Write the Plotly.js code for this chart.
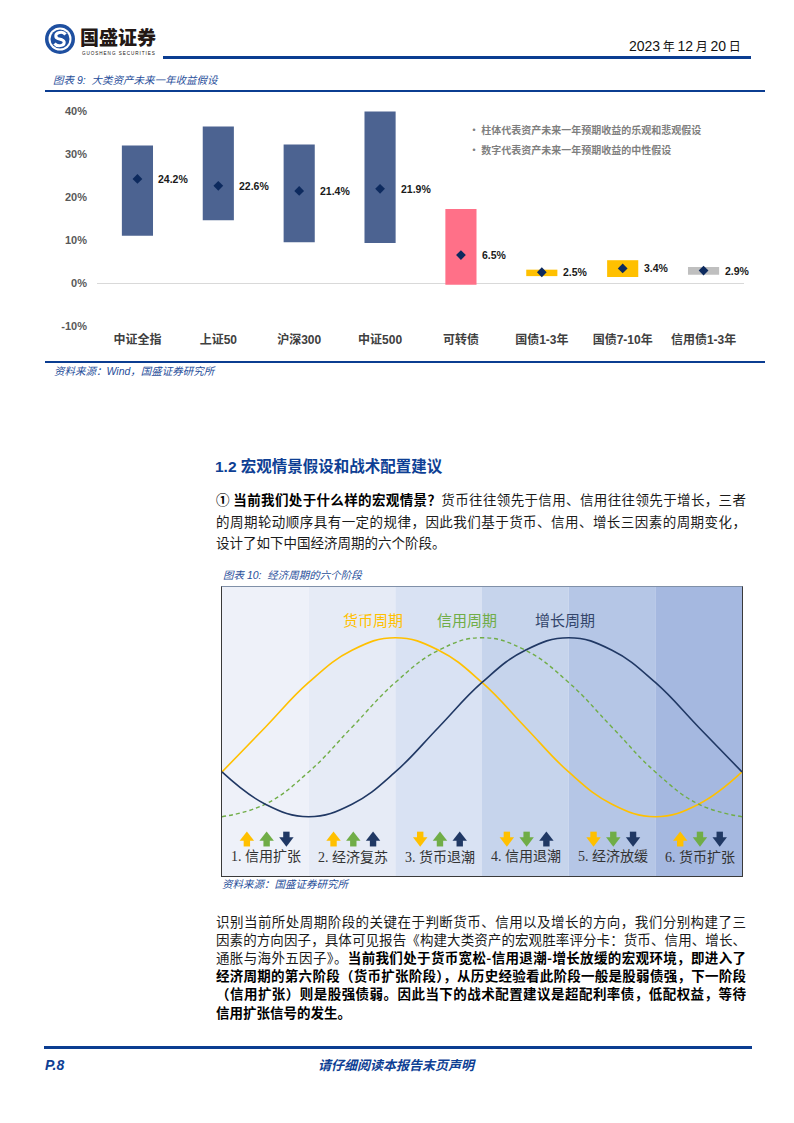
<!DOCTYPE html>
<html><head><meta charset="utf-8">
<script src="https://cdn.plot.ly/plotly-3.0.1.min.js"></script>
<style>
body{margin:0;background:#fff;}
#page{position:relative;width:794px;height:1123px;overflow:hidden;background:#fff;font-family:"Liberation Sans","Noto Sans CJK SC",sans-serif;}
.abs{position:absolute;white-space:nowrap;}
.cap{font-style:italic;color:#1F4E9A;font-size:10.5px;line-height:14px;font-family:"Liberation Sans","Noto Sans CJK SC",sans-serif;}
.hline{position:absolute;background:#0B3D91;}
.para{position:absolute;left:216px;width:530px;font-family:"Noto Sans CJK SC",sans-serif;font-size:13.5px;color:#1a1a1a;}
.ln{position:absolute;left:0;width:530px;height:18px;line-height:18px;text-align:justify;text-align-last:justify;white-space:nowrap;}
.ln.last{text-align:left;text-align-last:left;}
.b{font-weight:bold;color:#000;}
.leg{position:absolute;white-space:nowrap;font-family:"Noto Sans CJK SC",sans-serif;font-weight:bold;color:#7F7F7F;font-size:10px;line-height:14px;}
</style>
</head><body>
<div id="page">
  <!-- header logo -->
  <svg class="abs" style="left:44px;top:23px" width="32" height="32" viewBox="0 0 32 32">
    <circle cx="16" cy="16" r="15" fill="#1E4FA0"/>
    <circle cx="16" cy="16" r="11.5" fill="#fff"/>
    <circle cx="16" cy="16" r="9.5" fill="#1E4FA0"/>
    <path d="M21.5,11.5 C20,9.5 17,9 14.5,9.8 C11,11 11,14.5 14,15.6 L18,16.8 C21,17.8 21,21.5 17.5,22.4 C15,23 12,22.5 10.5,20.5" fill="none" stroke="#fff" stroke-width="3"/>
  </svg>
  <div class="abs" style="left:80px;top:26px;font-family:'Noto Sans CJK SC',sans-serif;font-weight:900;font-size:19px;line-height:21px;color:#231815;">国盛证券</div>
  <div class="abs" style="left:82px;top:51.3px;font-family:'Liberation Sans',sans-serif;font-size:4.6px;line-height:5px;letter-spacing:0.95px;color:#231815;">GUOSHENG SECURITIES</div>
  <div class="abs" style="left:629px;top:37px;font-size:14px;line-height:17px;color:#111;"><span>2023</span><span style="font-family:'Noto Sans CJK SC';font-size:12px"> 年 </span><span>12</span><span style="font-family:'Noto Sans CJK SC';font-size:12px"> 月 </span><span>20</span><span style="font-family:'Noto Sans CJK SC';font-size:12px"> 日</span></div>
  <div class="hline" style="left:163px;top:56px;width:588px;height:2.5px;"></div>

  <!-- chart 9 caption -->
  <div class="abs cap" style="left:53px;top:73px;">图表 9:&nbsp; 大类资产未来一年收益假设</div>
  <div class="hline" style="left:45px;top:90px;width:720px;height:2px;"></div>
  <div id="chart9" class="abs" style="left:40px;top:100px;width:720px;height:262px;"></div>
  <div class="leg" style="left:469px;top:123px;">· 柱体代表资产未来一年预期收益的乐观和悲观假设</div>
  <div class="leg" style="left:469px;top:143px;">· 数字代表资产未来一年预期收益的中性假设</div>
  <div class="hline" style="left:45px;top:361px;width:720px;height:2px;"></div>
  <div class="abs cap" style="left:54px;top:364px;">资料来源：Wind，国盛证券研究所</div>

  <!-- section heading -->
  <div class="abs" style="left:215px;top:457px;font-family:'Liberation Sans','Noto Sans CJK SC',sans-serif;font-weight:bold;font-size:15.5px;line-height:20px;color:#0E3F94;">1.2 宏观情景假设和战术配置建议</div>

  <div class="para" style="top:0;">
    <div class="ln" style="top:490px;"><span class="b">① 当前我们处于什么样的宏观情景？</span>货币往往领先于信用、信用往往领先于增长，三者</div>
    <div class="ln" style="top:511.5px;">的周期轮动顺序具有一定的规律，因此我们基于货币、信用、增长三因素的周期变化，</div>
    <div class="ln last" style="top:533px;">设计了如下中国经济周期的六个阶段。</div>
  </div>

  <!-- chart 10 -->
  <div class="abs cap" style="left:223px;top:568px;">图表 10:&nbsp; 经济周期的六个阶段</div>
  <div class="abs" style="left:220.5px;top:585.5px;width:520px;height:289px;border:1.5px solid #3a3a3a;border-top-color:#8090A8;">
    <div id="chart10" style="width:520px;height:289px;"></div>
  </div>
  <div class="abs cap" style="left:222px;top:877px;">资料来源：国盛证券研究所</div>

  <div class="para" style="top:0;">
    <div class="ln" style="top:911.5px;">识别当前所处周期阶段的关键在于判断货币、信用以及增长的方向，我们分别构建了三</div>
    <div class="ln" style="top:929.7px;">因素的方向因子，具体可见报告《构建大类资产的宏观胜率评分卡：货币、信用、增长、</div>
    <div class="ln" style="top:947.9px;">通胀与海外五因子》。<span class="b">当前我们处于货币宽松-信用退潮-增长放缓的宏观环境，即进入了</span></div>
    <div class="ln b" style="top:966.1px;">经济周期的第六阶段（货币扩张阶段），从历史经验看此阶段一般是股弱债强，下一阶段</div>
    <div class="ln b" style="top:984.3px;">（信用扩张）则是股强债弱。因此当下的战术配置建议是超配利率债，低配权益，等待</div>
    <div class="ln last b" style="top:1002.5px;">信用扩张信号的发生。</div>
  </div>

  <!-- footer -->
  <div class="hline" style="left:44px;top:1046px;width:708px;height:2.5px;"></div>
  <div class="abs" style="left:45px;top:1057px;font-weight:bold;font-style:italic;font-size:14px;line-height:16px;color:#0E3F94;">P.8</div>
  <div class="abs" style="left:318px;top:1057px;font-family:'Noto Sans CJK SC',sans-serif;font-weight:bold;font-style:italic;font-size:13px;line-height:16px;color:#0E3F94;">请仔细阅读本报告末页声明</div>
</div>

<script>
// ---------- Chart 9 data ----------
const assets = ['中证全指','上证50','沪深300','中证500','可转债','国债1-3年','国债7-10年','信用债1-3年'];
const pessimistic = [11.0, 14.6, 9.5, 9.3, -0.4, 1.6, 1.4, 1.9];
const optimistic  = [32.0, 36.4, 32.2, 39.9, 17.2, 3.1, 5.3, 3.7];
const neutral     = [24.2, 22.6, 21.4, 21.9, 6.5, 2.5, 3.4, 2.9];
const assetColors = ['#4C6391','#4C6391','#4C6391','#4C6391','#FF7088','#FFC000','#FFC000','#BFBFBF'];
const yTickVals   = [-10, 0, 10, 20, 30, 40];
const yTickLabels = ['-10%','0%','10%','20%','30%','40%'];

// ---------- Chart 10 data ----------
const stageNames = ['1. 信用扩张','2. 经济复苏','3. 货币退潮','4. 信用退潮','5. 经济放缓','6. 货币扩张'];
const phase       = [0,0.5,1,1.5,2,2.5,3,3.5,4,4.5,5,5.5,6];
const moneyCycle  = [25,50,75,93,100,93,75,50,25,7,0,7,25];
const creditCycle = [0,7,25,50,75,93,100,93,75,50,25,7,0];
const growthCycle = [25,7,0,7,25,50,75,93,100,93,75,50,25];
const cycleNames  = ['货币周期','信用周期','增长周期'];
// direction of money, credit, growth in each stage (1 up, -1 down)
const directions  = [[1,1,-1],[1,1,1],[-1,1,1],[-1,-1,1],[-1,-1,-1],[1,-1,-1]];

const cycleColors = ['#FFC000','#70AD47','#203864'];
const bandColors  = ['#EEF1F9','#E6EBF6','#D9E2F3','#C6D4EC','#B5C6E6','#A5B8E0'];

// ---------- Chart 9 ----------
(function(){
  const bars = {
    type:'bar', x:assets, y:optimistic.map((v,i)=>v-pessimistic[i]), base:pessimistic,
    width:0.385, marker:{color:assetColors, line:{width:0}}, hoverinfo:'skip'
  };
  const pts = {
    type:'scatter', mode:'markers', x:assets, y:neutral,
    marker:{symbol:'diamond', size:7.5, color:'#0D2A5E', line:{width:0}}, hoverinfo:'skip'
  };
  const ann = neutral.map((v,i)=>({
    x:assets[i], y:v, xref:'x', yref:'y', text:'<b>'+v.toFixed(1)+'%</b>', showarrow:false,
    xanchor:'left', yanchor:'middle', xshift:19,
    font:{family:'Liberation Sans, Arial, sans-serif', size:10.5, color:'#1a1a1a'}
  }));
  const layout = {
    width:720, height:262, margin:{l:56.5, r:15.5, t:11, b:36.3},
    paper_bgcolor:'rgba(0,0,0,0)', plot_bgcolor:'rgba(0,0,0,0)', showlegend:false,
    xaxis:{type:'category', range:[-0.5,7.5], showgrid:false, zeroline:false, showline:false, ticks:'',
      tickfont:{family:'Liberation Sans, Noto Sans CJK SC, sans-serif', size:12, color:'#404040', weight:'bold'},
      ticklabelstandoff:5},
    yaxis:{range:[-10,40], tickvals:yTickVals, ticktext:yTickLabels, showgrid:false,
      zeroline:true, zerolinecolor:'#D9D9D9', zerolinewidth:1, showline:false, ticks:'',
      tickfont:{family:'Liberation Sans, Arial, sans-serif', size:11, color:'#595959', weight:'bold'},
      ticklabelstandoff:9},
    annotations:ann
  };
  Plotly.newPlot('chart9',[bars,pts],layout,{staticPlot:true, displayModeBar:false});
})();

// ---------- Chart 10 ----------
(function(){
  const H = 289, W = 520;
  const yr = [-33.13, 128.32];
  const ppu = H/(yr[1]-yr[0]);
  const arrowLevel = -12.5, labelLevel = -22.5, titleLevel = 110.4;

  const curves = [
    {type:'scatter', mode:'lines', x:phase, y:moneyCycle, line:{color:cycleColors[0], width:1.6, shape:'spline', smoothing:1.2}, hoverinfo:'skip'},
    {type:'scatter', mode:'lines', x:phase, y:creditCycle, line:{color:cycleColors[1], width:1.4, dash:'4px,3px', shape:'spline', smoothing:1.2}, hoverinfo:'skip'},
    {type:'scatter', mode:'lines', x:phase, y:growthCycle, line:{color:cycleColors[2], width:1.6, shape:'spline', smoothing:1.2}, hoverinfo:'skip'}
  ];

  // arrows: triangle head + square shaft
  const traces = [];
  for (let k=0;k<3;k++){
    const hx=[], hy=[], hs=[], sx=[], sy=[];
    directions.forEach((d,i)=>{
      const x = i + 0.515 + (k-1)*0.228;
      const up = d[k] > 0;
      hx.push(x); hy.push(arrowLevel + (up ? 1.4 : -1.4)/ppu); hs.push(up?'triangle-up':'triangle-down');
      sx.push(x); sy.push(arrowLevel + (up ? -4.2 : 4.2)/ppu);
    });
    traces.push({type:'scatter', mode:'markers', x:sx, y:sy, marker:{symbol:'square', size:6.4, color:cycleColors[k], line:{width:0}}, hoverinfo:'skip'});
    traces.push({type:'scatter', mode:'markers', x:hx, y:hy, marker:{symbol:hs, size:12.5, color:cycleColors[k], line:{width:0}}, hoverinfo:'skip'});
  }

  const shapes = bandColors.map((c,i)=>({type:'rect', xref:'x', yref:'paper', x0:i, x1:i+1, y0:0, y1:1, fillcolor:c, line:{width:0}, layer:'below'}));

  const titleX = [1.74, 2.83, 3.96];
  const annotations = cycleNames.map((n,k)=>({x:titleX[k], y:titleLevel, text:n, showarrow:false,
    font:{family:'Noto Sans CJK SC, sans-serif', size:15, color: k===2 ? '#33456B' : cycleColors[k]}}));
  stageNames.forEach((n,i)=>annotations.push({x:i+0.51, y:labelLevel, text:n, showarrow:false,
    font:{family:'Liberation Serif, Noto Sans CJK SC, serif', size:14, color:'#333333'}}));

  const layout = {
    width:W, height:H, margin:{l:0,r:0,t:0,b:0},
    paper_bgcolor:'rgba(0,0,0,0)', plot_bgcolor:'rgba(0,0,0,0)', showlegend:false,
    xaxis:{range:[0,6], visible:false, fixedrange:true},
    yaxis:{range:yr, visible:false, fixedrange:true},
    shapes:shapes, annotations:annotations
  };
  Plotly.newPlot('chart10', curves.concat(traces), layout, {staticPlot:true, displayModeBar:false});
})();
</script>
</body></html>
